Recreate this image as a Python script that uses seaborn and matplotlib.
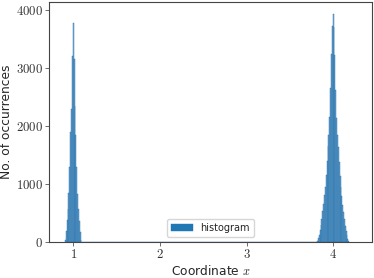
import numpy as np
import pandas as pd
import matplotlib
matplotlib.use("Agg")
import matplotlib.pyplot as plt
import seaborn as sns

# bin counts (bin width 0.01)
peak1_centers = np.round(np.arange(0.91, 1.095, 0.01), 3)
peak1_counts = [40, 180, 370, 560, 850, 1300, 1900, 2300, 3200, 3780,
                3150, 2350, 1850, 1300, 830, 560, 360, 170, 35]
peak2_centers = np.round(np.arange(3.82, 4.185, 0.01), 3)
peak2_counts = [20, 60, 120, 200, 290, 400, 530, 650, 800, 950,
                1150, 1400, 1650, 1850, 2150, 2650, 3250, 3720, 3940,
                3700, 3230, 2620, 2130, 1840, 1630, 1380, 1140, 940,
                790, 640, 520, 390, 280, 190, 110, 55, 18]
x_ticks = [1, 2, 3, 4]
y_ticks = [0, 1000, 2000, 3000, 4000]

df = pd.DataFrame({
    "x": np.concatenate([peak1_centers, peak2_centers]),
    "count": peak1_counts + peak2_counts,
})

sns.set_style("white")
plt.rcParams["mathtext.fontset"] = "cm"
plt.rcParams["font.family"] = ["DejaVu Sans"]

fig, ax = plt.subplots(figsize=(3.74, 2.78), dpi=100)
sns.histplot(data=df, x="x", weights="count", binwidth=0.01,
             binrange=(0.905, 4.185), color="#2a7fc0",
             alpha=0.55, edgecolor="#1f6aa5", linewidth=0.3,
             label="histogram", ax=ax)

ax.set_xlim(0.72, 4.45)
ax.set_ylim(0, 4140)
ax.set_xticks(x_ticks)
ax.set_xticklabels([f"${t}$" for t in x_ticks])
ax.set_yticks(y_ticks)
ax.set_yticklabels([f"${t}$" for t in y_ticks])
ax.tick_params(axis="both", labelsize=9.2, length=3, width=0.6,
               direction="out", bottom=True, left=True, pad=1.5, colors="#555555",
               labelcolor="#333333")
for s in ax.spines.values():
    s.set_color("#444444")
    s.set_linewidth(0.8)
ax.set_xlabel("Coordinate $x$", fontsize=8.8, labelpad=2)
ax.set_ylabel("No. of occurrences", fontsize=8.8)
ax.yaxis.set_label_coords(-0.112, 0.5)
leg = ax.legend(loc="lower center", fontsize=7, frameon=True, handlelength=2.2,
                borderpad=0.4, bbox_to_anchor=(0.5, 0.0))
for h in leg.legend_handles:
    h.set_alpha(1)
    h.set_facecolor("#1f77b4")
    h.set_edgecolor("#1f77b4")

fig.subplots_adjust(left=0.131, right=0.995, top=0.993, bottom=0.13)
fig.savefig("out.png", dpi=100)
